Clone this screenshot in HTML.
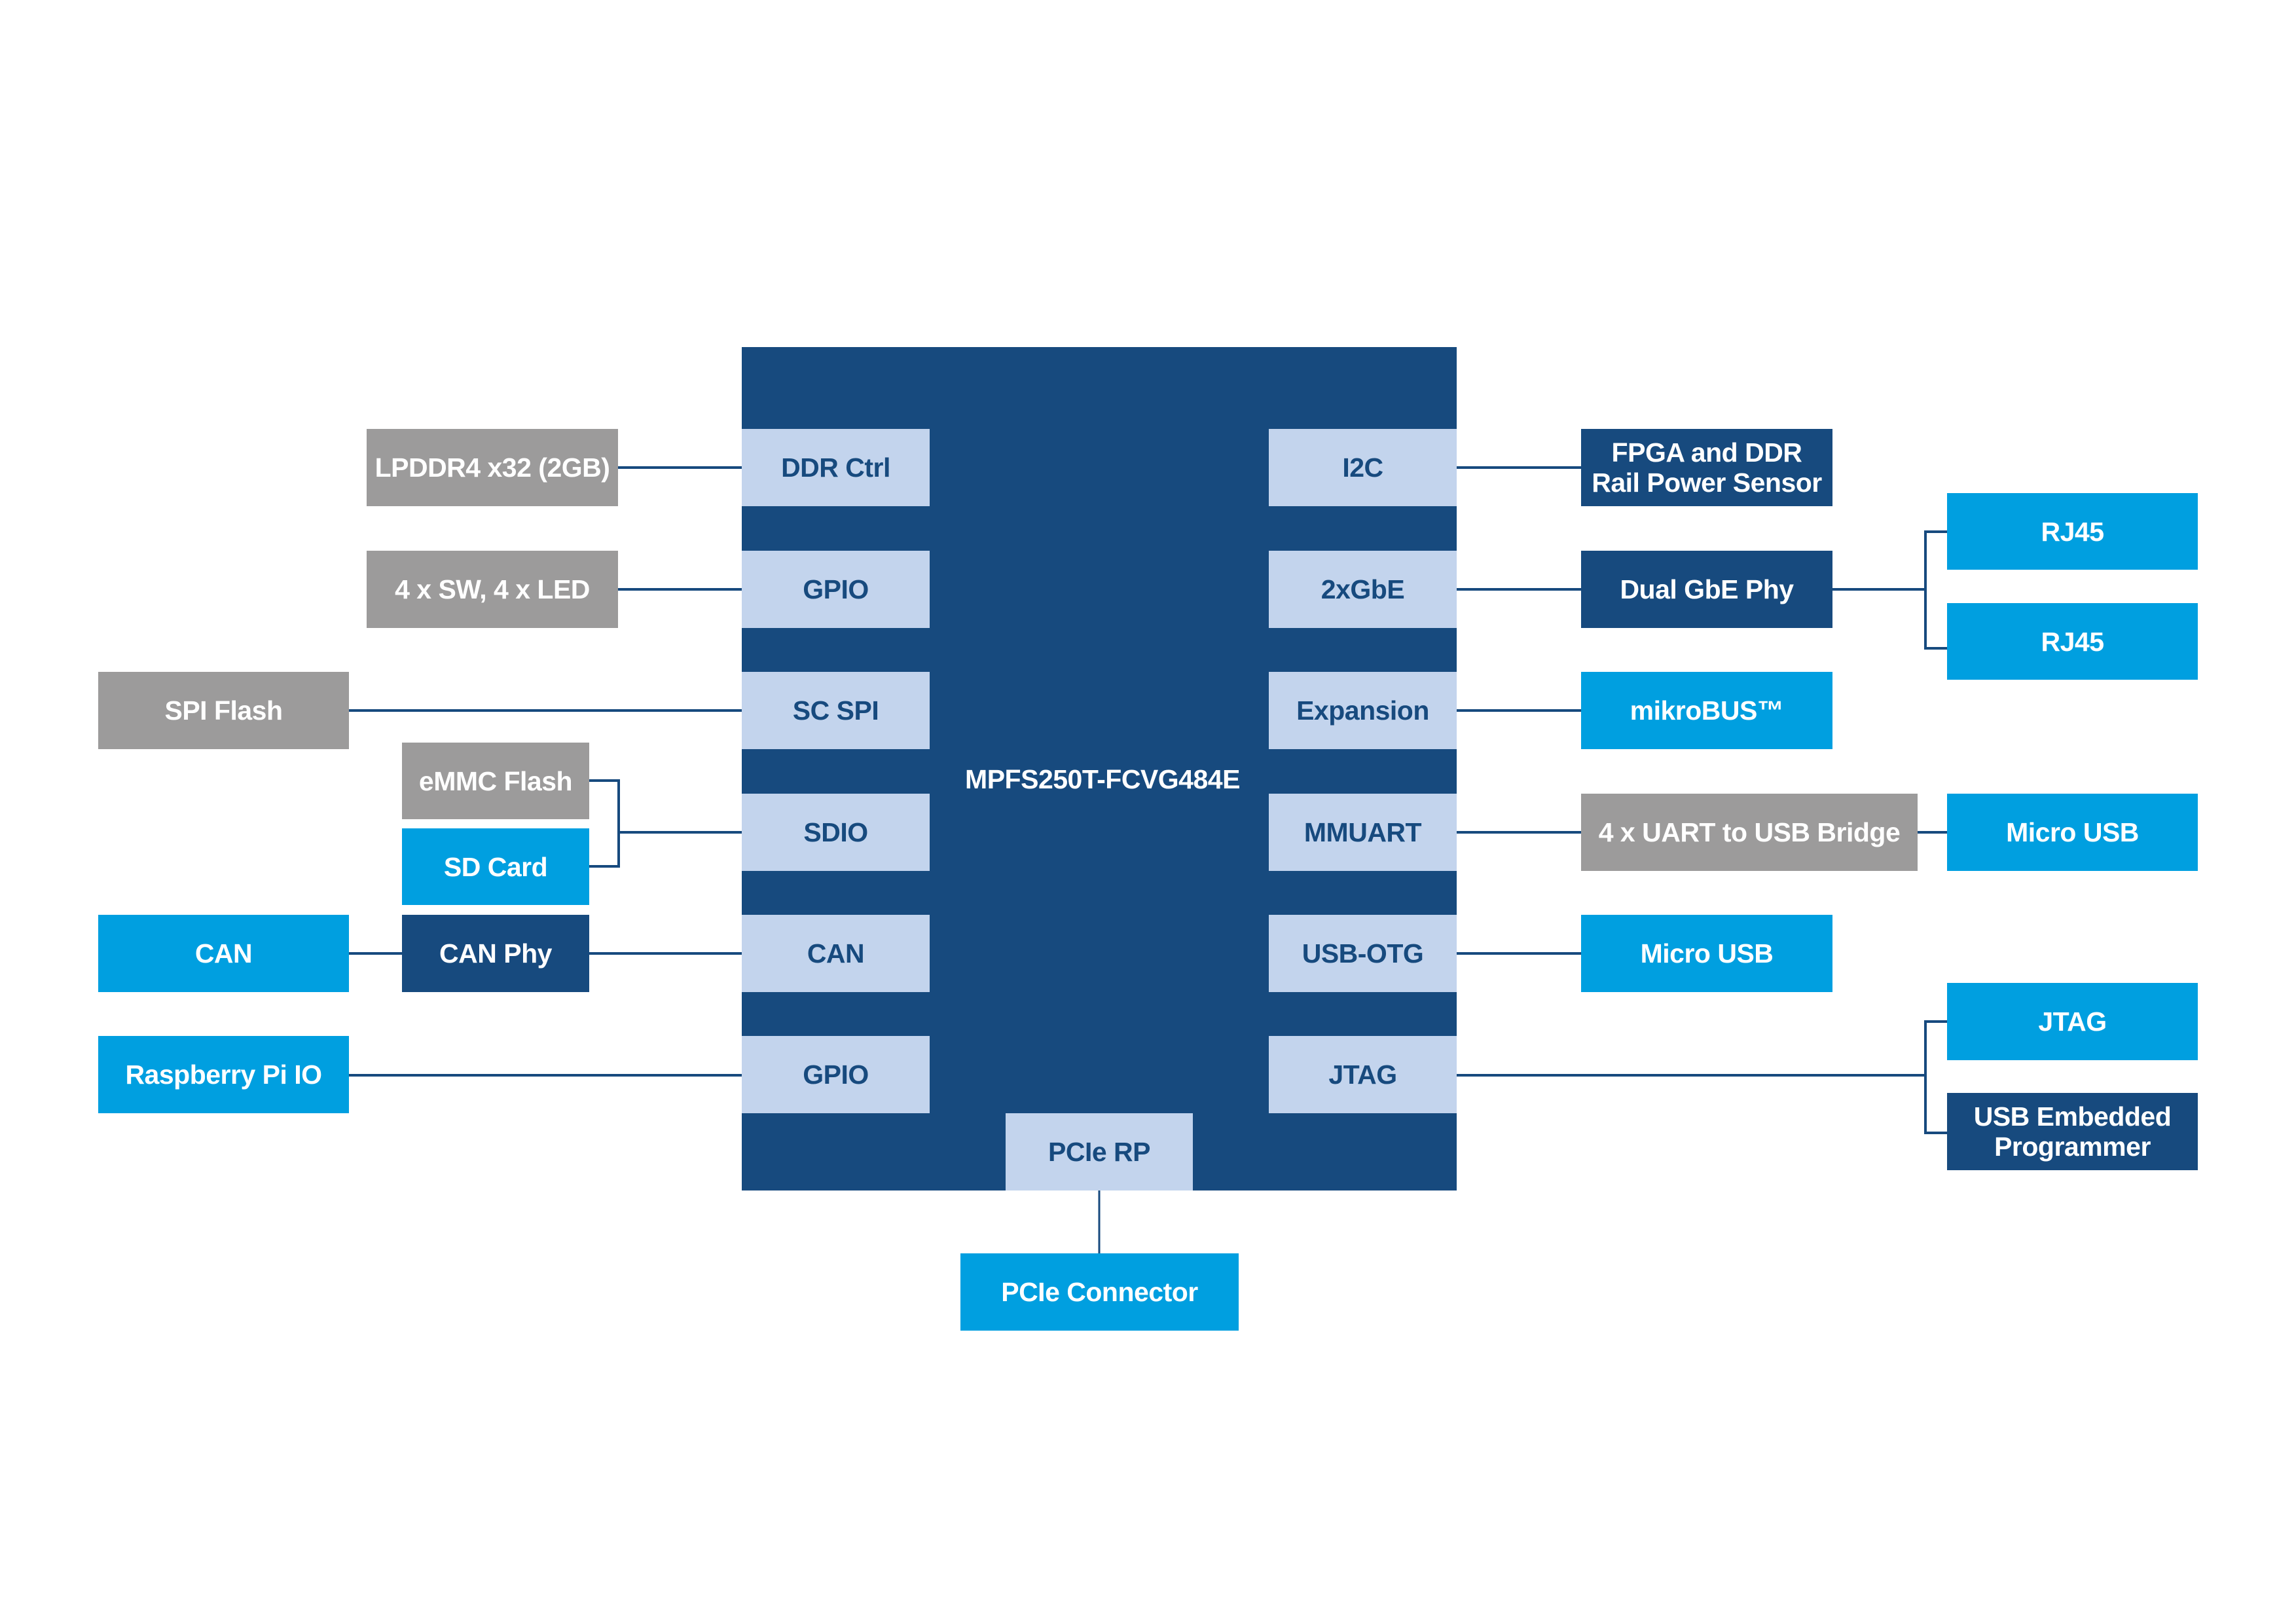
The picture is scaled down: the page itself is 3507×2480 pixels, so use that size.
<!DOCTYPE html>
<html><head><meta charset="utf-8"><style>
html,body{margin:0;padding:0;background:#fff;}
body{width:3507px;height:2480px;position:relative;overflow:hidden;font-family:"Liberation Sans",sans-serif;}
.b{position:absolute;display:flex;align-items:center;justify-content:center;text-align:center;font-weight:bold;font-size:41px;letter-spacing:-0.5px;line-height:46px;color:#fff;}
.p{background:#c3d4ed;color:#174a7e;}
.g{background:#9c9b9b;}
.c{background:#009fe0;}
.d{background:#174a7e;}
svg{position:absolute;left:0;top:0;}
</style></head><body>
<svg width="3507" height="2480">
<g stroke="#174a7e" stroke-width="4" fill="none">
<line x1="944" y1="714" x2="1133" y2="714"/>
<line x1="944" y1="900" x2="1133" y2="900"/>
<line x1="533" y1="1085" x2="1133" y2="1085"/>
<polyline points="900,1192 945,1192 945,1323 900,1323"/>
<line x1="945" y1="1271" x2="1133" y2="1271"/>
<line x1="533" y1="1456" x2="614" y2="1456"/>
<line x1="900" y1="1456" x2="1133" y2="1456"/>
<line x1="533" y1="1642" x2="1133" y2="1642"/>
<line x1="2225" y1="714" x2="2415" y2="714"/>
<line x1="2225" y1="900" x2="2415" y2="900"/>
<line x1="2799" y1="900" x2="2941" y2="900"/>
<polyline points="2974,812 2941,812 2941,990 2974,990"/>
<line x1="2225" y1="1085" x2="2415" y2="1085"/>
<line x1="2225" y1="1271" x2="2415" y2="1271"/>
<line x1="2929" y1="1271" x2="2974" y2="1271"/>
<line x1="2225" y1="1456" x2="2415" y2="1456"/>
<line x1="2225" y1="1642" x2="2941" y2="1642"/>
<polyline points="2974,1560 2941,1560 2941,1730 2974,1730"/>
<line x1="1679" y1="1818" x2="1679" y2="1914" stroke-width="3"/>
</g></svg>
<div class="b d" style="left:1133px;top:530px;width:1092px;height:1288px;"></div>
<div class="b" style="left:1430px;top:1160px;width:508px;height:60px;">MPFS250T-FCVG484E</div>
<div class="b p" style="left:1133px;top:655px;width:287px;height:118px;">DDR Ctrl</div>
<div class="b p" style="left:1133px;top:841px;width:287px;height:118px;">GPIO</div>
<div class="b p" style="left:1133px;top:1026px;width:287px;height:118px;">SC SPI</div>
<div class="b p" style="left:1133px;top:1212px;width:287px;height:118px;">SDIO</div>
<div class="b p" style="left:1133px;top:1397px;width:287px;height:118px;">CAN</div>
<div class="b p" style="left:1133px;top:1582px;width:287px;height:118px;">GPIO</div>
<div class="b p" style="left:1938px;top:655px;width:287px;height:118px;">I2C</div>
<div class="b p" style="left:1938px;top:841px;width:287px;height:118px;">2xGbE</div>
<div class="b p" style="left:1938px;top:1026px;width:287px;height:118px;">Expansion</div>
<div class="b p" style="left:1938px;top:1212px;width:287px;height:118px;">MMUART</div>
<div class="b p" style="left:1938px;top:1397px;width:287px;height:118px;">USB-OTG</div>
<div class="b p" style="left:1938px;top:1582px;width:287px;height:118px;">JTAG</div>
<div class="b p" style="left:1536px;top:1700px;width:286px;height:118px;">PCIe RP</div>
<div class="b c" style="left:1467px;top:1914px;width:425px;height:118px;">PCIe Connector</div>
<div class="b g" style="left:560px;top:655px;width:384px;height:118px;">LPDDR4 x32 (2GB)</div>
<div class="b g" style="left:560px;top:841px;width:384px;height:118px;">4 x SW, 4 x LED</div>
<div class="b g" style="left:150px;top:1026px;width:383px;height:118px;">SPI Flash</div>
<div class="b g" style="left:614px;top:1134px;width:286px;height:117px;">eMMC Flash</div>
<div class="b c" style="left:614px;top:1265px;width:286px;height:117px;">SD Card</div>
<div class="b c" style="left:150px;top:1397px;width:383px;height:118px;">CAN</div>
<div class="b d" style="left:614px;top:1397px;width:286px;height:118px;">CAN Phy</div>
<div class="b c" style="left:150px;top:1582px;width:383px;height:118px;">Raspberry Pi IO</div>
<div class="b d" style="left:2415px;top:655px;width:384px;height:118px;">FPGA and DDR<br>Rail Power Sensor</div>
<div class="b d" style="left:2415px;top:841px;width:384px;height:118px;">Dual GbE Phy</div>
<div class="b c" style="left:2415px;top:1026px;width:384px;height:118px;">mikroBUS™</div>
<div class="b g" style="left:2415px;top:1212px;width:514px;height:118px;">4 x UART to USB Bridge</div>
<div class="b c" style="left:2974px;top:1212px;width:383px;height:118px;">Micro USB</div>
<div class="b c" style="left:2974px;top:753px;width:383px;height:117px;">RJ45</div>
<div class="b c" style="left:2974px;top:921px;width:383px;height:117px;">RJ45</div>
<div class="b c" style="left:2415px;top:1397px;width:384px;height:118px;">Micro USB</div>
<div class="b c" style="left:2974px;top:1501px;width:383px;height:118px;">JTAG</div>
<div class="b d" style="left:2974px;top:1669px;width:383px;height:118px;">USB Embedded<br>Programmer</div>
</body></html>
